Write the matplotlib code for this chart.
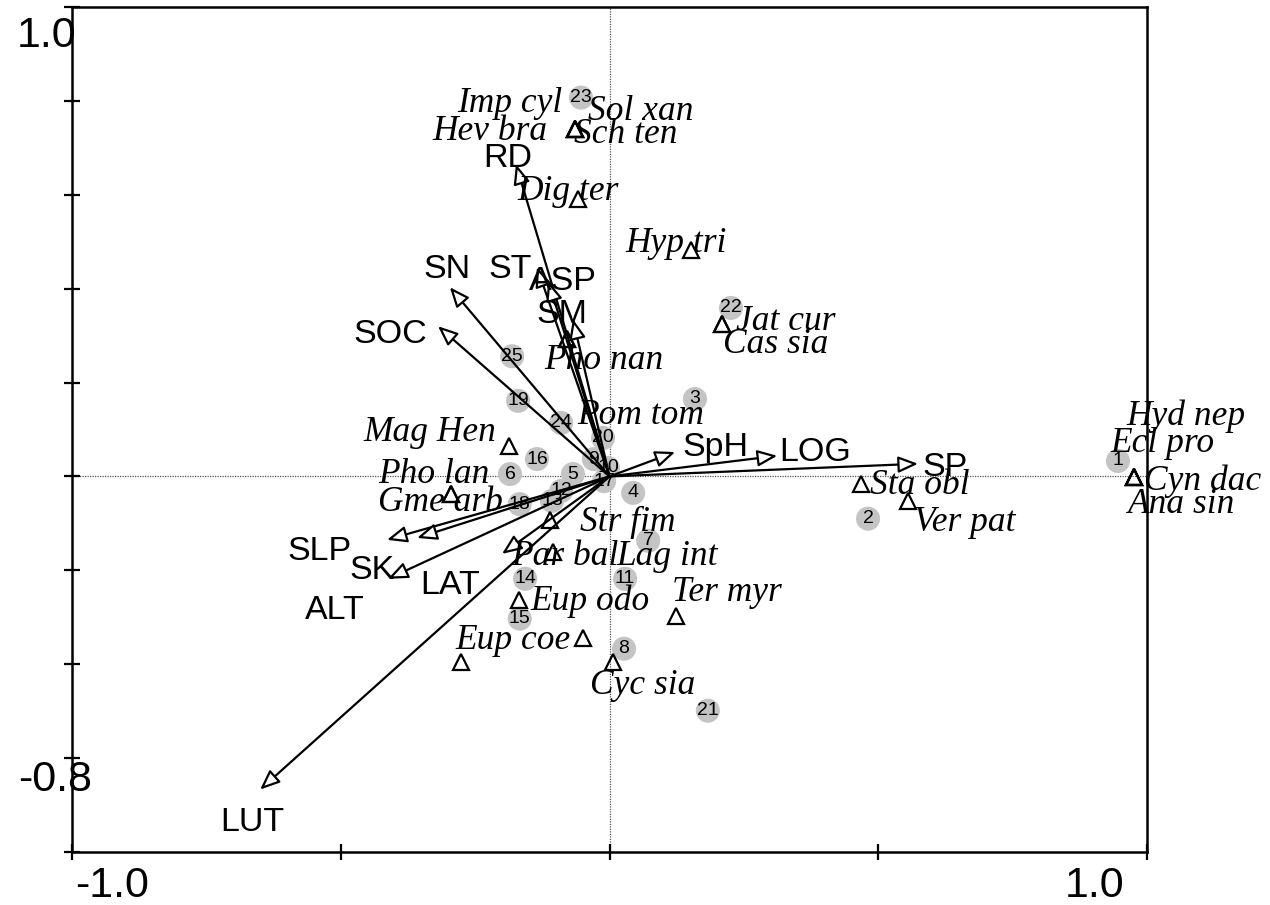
import numpy as np
import matplotlib
matplotlib.use("Agg")
import matplotlib.pyplot as plt

# sites (samples) - CCA scores, axis 1 / axis 2
site_ids = [str(i) for i in range(1, 26)]
site_x = [0.946, 0.481, 0.159, 0.044, -0.068, -0.185, 0.072, 0.027, -0.029, -0.003,
          0.029, -0.090, -0.107, -0.157, -0.167, -0.135, -0.010, -0.167, -0.170, -0.012,
          0.183, 0.226, -0.053, -0.090, -0.181]
site_y = [0.033, -0.090, 0.165, -0.035, 0.005, 0.005, -0.137, -0.367, 0.037, 0.018,
          -0.218, -0.031, -0.052, -0.218, -0.303, 0.037, -0.010, -0.059, 0.161, 0.082,
          -0.499, 0.359, 0.807, 0.114, 0.256]

# environmental variables (arrow tips)
env_names = ["RD", "SN", "ST", "ASP", "SM", "SOC", "SpH", "LOG", "SP",
             "SLP", "ALT", "SK", "LAT", "LUT"]
env_x = [-0.174, -0.297, -0.135, -0.114, -0.068, -0.319, 0.122, 0.312, 0.574,
         -0.414, -0.358, -0.412, -0.200, -0.650]
env_y = [0.665, 0.403, 0.446, 0.416, 0.335, 0.320, 0.052, 0.044, 0.027,
         -0.135, -0.131, -0.218, -0.165, -0.667]

# species scores
spp_names = ["Imp cyl", "Sol xan", "Hev bra", "Sch ten", "Dig ter", "Hyp tri",
             "Jat cur", "Cas sia", "Pho nan", "Pom tom", "Mag Hen", "Pho lan",
             "Gme arb", "Str fim", "Par bal", "Lag int", "Eup odo", "Ter myr",
             "Eup coe", "Cyc sia", "Sta obl", "Ver pat", "Hyd nep", "Ecl pro",
             "Cyn dac", "Ana sin"]
spp_x = [-0.064, -0.064, -0.064, -0.064, -0.059, 0.152, 0.209, 0.209, -0.079, -0.079,
         -0.187, -0.295, -0.295, -0.111, -0.105, -0.049, -0.168, 0.124, -0.276, 0.007,
         0.468, 0.555, 0.976, 0.976, 0.976, 0.976]
spp_y = [0.741, 0.741, 0.741, 0.741, 0.590, 0.482, 0.324, 0.324, 0.293, 0.293,
         0.065, -0.037, -0.037, -0.093, -0.161, -0.344, -0.263, -0.297, -0.395, -0.395,
         -0.016, -0.052, -0.001, -0.001, -0.001, -0.001]

# label positions (moved by hand, like in CANOCO)
env_lab = {"RD": (-0.189, 0.678), "SN": (-0.302, 0.441), "ST": (-0.185, 0.441),
           "ASP": (-0.087, 0.416), "SM": (-0.088, 0.346), "SOC": (-0.408, 0.303),
           "SpH": (0.198, 0.061), "LOG": (0.382, 0.050), "SP": (0.624, 0.020),
           "SLP": (-0.539, -0.159), "SK": (-0.442, -0.201), "LAT": (-0.297, -0.233),
           "ALT": (-0.511, -0.286), "LUT": (-0.665, -0.737)}
spp_lab = {"Imp cyl": (-0.185, 0.795), "Sol xan": (0.059, 0.778), "Hev bra": (-0.222, 0.735),
           "Sch ten": (0.031, 0.729), "Dig ter": (-0.077, 0.607), "Hyp tri": (0.124, 0.497),
           "Jat cur": (0.328, 0.331), "Cas sia": (0.310, 0.282), "Pho nan": (-0.010, 0.246),
           "Pom tom": (0.057, 0.129), "Mag Hen": (-0.334, 0.093), "Pho lan": (-0.327, 0.005),
           "Gme arb": (-0.315, -0.056), "Str fim": (0.034, -0.099), "Par bal": (-0.083, -0.171),
           "Lag int": (0.107, -0.171), "Eup odo": (-0.036, -0.265), "Ter myr": (0.219, -0.248),
           "Eup coe": (-0.179, -0.350), "Cyc sia": (0.062, -0.446), "Sta obl": (0.578, -0.020),
           "Ver pat": (0.661, -0.099), "Hyd nep": (1.073, 0.129), "Ecl pro": (1.028, 0.071),
           "Cyn dac": (1.104, -0.010), "Ana sin": (1.065, -0.059)}

fig = plt.figure(figsize=(12.7, 9.05), dpi=100)
ax = fig.add_axes([72/1270, 1-852/905, (1147-72)/1270, (852-7)/905])
ax.set_xlim(-1.0, 1.0)
ax.set_ylim(-0.8, 1.0)

# zero lines
ax.axhline(0, color="#555555", lw=0.9, ls=(0, (1, 1)), zorder=1)
ax.axvline(0, color="#555555", lw=0.9, ls=(0, (1, 1)), zorder=1)

# sites
ax.scatter(site_x, site_y, s=300, color="#c4c4c4", edgecolors="none", zorder=2)
for sid, x, y in zip(site_ids, site_x, site_y):
    ax.text(x, y, sid, fontsize=14, family="Liberation Sans", ha="center", va="center", zorder=3)

# species
ax.plot(spp_x, spp_y, ls="none", marker="^", markersize=11, mfc="none",
        mec="black", mew=1.6, zorder=4)
for name in spp_names:
    lx, ly = spp_lab[name]
    ax.text(lx, ly, name, fontsize=25.5, family="Liberation Serif", style="italic",
            ha="center", va="center", zorder=6)

# environmental arrows
for name, x, y in zip(env_names, env_x, env_y):
    ax.annotate("", xy=(x, y), xytext=(0, 0),
                arrowprops=dict(arrowstyle="-|>,head_length=0.6,head_width=0.25",
                                fc="white", ec="black", lw=1.6, mutation_scale=20,
                                shrinkA=0, shrinkB=0), zorder=5)
    lx, ly = env_lab[name]
    ax.text(lx, ly, name, fontsize=24.5, family="Liberation Sans", ha="center",
            va="center", zorder=6)

# axes styling
for sp in ax.spines.values():
    sp.set_linewidth(1.8)
ax.set_xticks([-1.0, -0.5, 0.0, 0.5, 1.0])
ax.set_yticks(np.arange(-0.8, 1.01, 0.2))
ax.tick_params(direction="inout", length=12, width=1.6, labelbottom=False, labelleft=False)

fig.text(76/1270, 1-36/905, "1.0", fontsize=31, family="Liberation Sans", ha="right", va="center")
fig.text(92/1270, 1-780/905, "-0.8", fontsize=31, family="Liberation Sans", ha="right", va="center")
fig.text(112/1270, 1-886/905, "-1.0", fontsize=31, family="Liberation Sans", ha="center", va="center")
fig.text(1095/1270, 1-886/905, "1.0", fontsize=31, family="Liberation Sans", ha="center", va="center")

fig.savefig("out.png", dpi=100)
